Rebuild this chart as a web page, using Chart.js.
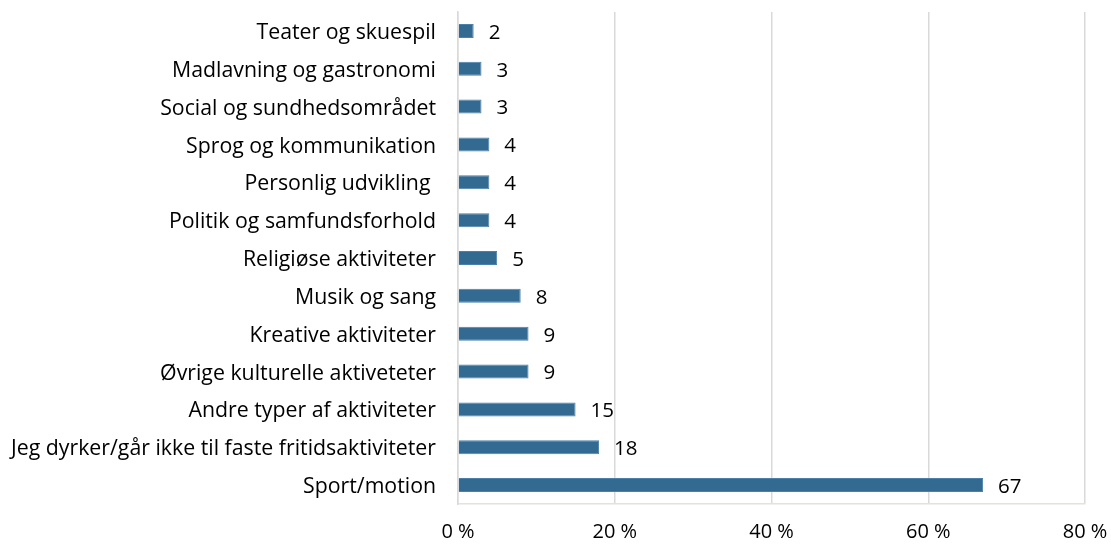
<!DOCTYPE html>
<html>
<head>
<meta charset="utf-8">
<script src="https://cdn.jsdelivr.net/npm/chart.js@4"></script>
<style>
  html, body { margin: 0; padding: 0; background: #fff; }
  #wrap { width: 1111px; height: 545px; }
</style>
</head>
<body>
<div id="wrap"><canvas id="chart" width="1111" height="545"></canvas></div>
<script>
const categories = [
  'Teater og skuespil',
  'Madlavning og gastronomi',
  'Social og sundhedsområdet',
  'Sprog og kommunikation',
  'Personlig udvikling ',
  'Politik og samfundsforhold',
  'Religiøse aktiviteter',
  'Musik og sang',
  'Kreative aktiviteter',
  'Øvrige kulturelle aktiveteter',
  'Andre typer af aktiviteter',
  'Jeg dyrker/går ikke til faste fritidsaktiviteter',
  'Sport/motion'
];
const values = [2, 3, 3, 4, 4, 4, 5, 8, 9, 9, 15, 18, 67];
const xTicks = [0, 20, 40, 60, 80];

const fontFamily = '"Open Sans", Lato, sans-serif';

// writes the value to the right of each bar
const valueLabels = {
  id: 'valueLabels',
  afterDatasetsDraw(chart) {
    const ctx = chart.ctx;
    const meta = chart.getDatasetMeta(0);
    ctx.save();
    ctx.font = '20.5px ' + fontFamily;
    ctx.fillStyle = '#000';
    ctx.textAlign = 'left';
    ctx.textBaseline = 'middle';
    meta.data.forEach((bar, i) => {
      ctx.fillText(String(values[i]), bar.x + 15, bar.y + 2);
    });
    ctx.restore();
  }
};

new Chart(document.getElementById('chart').getContext('2d'), {
  type: 'bar',
  data: {
    labels: categories,
    datasets: [{
      data: values,
      backgroundColor: '#336a92',
      borderColor: '#4a80aa',
      borderWidth: 1,
      categoryPercentage: 1,
      barPercentage: 0.37
    }]
  },
  options: {
    indexAxis: 'y',
    responsive: false,
    animation: false,
    layout: { padding: { left: 0, right: 26, top: 12, bottom: 0 } },
    plugins: {
      legend: { display: false },
      tooltip: { enabled: false }
    },
    scales: {
      x: {
        min: 0,
        max: 80,
        afterBuildTicks(scale) {
          scale.ticks = xTicks.map(v => ({ value: v }));
        },
        afterFit(scale) {
          scale.height = 41;
          scale.paddingLeft = 0;
          scale.paddingRight = 0;
        },
        grid: { color: '#d9d9d9', lineWidth: 1.5, drawTicks: false },
        border: { color: '#e6e2da', width: 1.5 },
        ticks: {
          color: '#000',
          padding: 16,
          font: { family: fontFamily, size: 20 },
          callback: v => v + ' %'
        }
      },
      y: {
        afterFit(scale) {
          scale.width = 458;
          scale.paddingTop = 0;
          scale.paddingBottom = 0;
        },
        grid: { display: false, drawTicks: false },
        border: { color: '#d9d9d9', width: 1.5 },
        ticks: {
          color: '#000',
          padding: 22,
          labelOffset: 2,
          font: { family: fontFamily, size: 21.3 }
        }
      }
    }
  },
  plugins: [valueLabels]
});
</script>
</body>
</html>
